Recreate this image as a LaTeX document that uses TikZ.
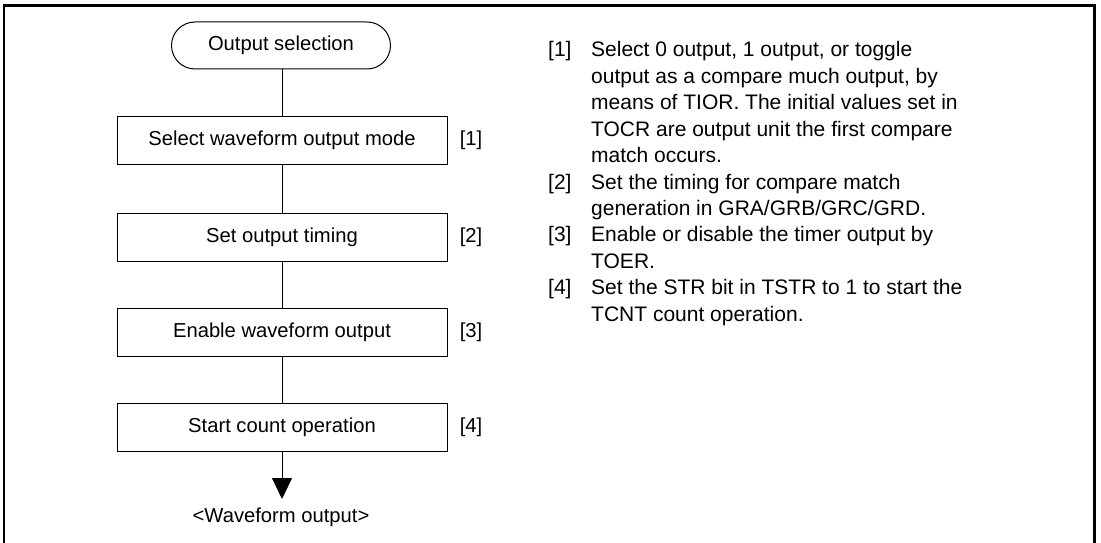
\documentclass[tikz,border=0pt]{standalone}
\usepackage{fontspec}
\setmainfont{Liberation Sans}
\usetikzlibrary{arrows.meta}
\begin{document}
\begin{tikzpicture}[x=1pt,y=-1pt,
  every node/.style={font=\fontsize{20.2}{24}\selectfont, inner sep=0pt},
  stepbox/.style={draw, line width=1pt, minimum width=330pt, minimum height=48pt},
  termbox/.style={draw, line width=1pt, rounded corners=23.5pt, minimum width=219pt, minimum height=47pt},
  link/.style={line width=0.9pt},
  note/.style={anchor=base west, font=\fontsize{21}{24}\selectfont},
  tag/.style={anchor=base west, font=\fontsize{21}{24}\selectfont}
]
\useasboundingbox (0,0) rectangle (1101,543);
\draw[line width=2.5pt] (4,543) -- (4,5.5) -- (1094.5,5.5) -- (1094.5,543);

\node[termbox] (t) at (281,45.5) {Output selection};
\node[stepbox] (s1) at (282,140) {Select waveform output mode};
\node[stepbox] (s2) at (282,237.5) {Set output timing};
\node[stepbox] (s3) at (282,332) {Enable waveform output};
\node[stepbox] (s4) at (282,427) {Start count operation};
\node (l1) at (471,140) {[1]};
\node (l2) at (471,237.5) {[2]};
\node (l3) at (471,332) {[3]};
\node (l4) at (471,427) {[4]};
\coordinate (end) at (282,499);
\node (out) at (281,517) {<Waveform output>};

\draw[link] (t.south -| s1.north) -- (s1.north);
\draw[link] (s1) -- (s2);
\draw[link] (s2) -- (s3);
\draw[link] (s3) -- (s4);
\draw[link, -{Triangle[width=20pt,length=21pt]}] (s4.south) -- (end);

\node[tag] (n1) at (548,57) {[1]};
\node[note] (n1a) at (591,57) {Select 0 output, 1 output, or toggle};
\node[note] (n1b) at (591,83.4) {output as a compare much output, by};
\node[note] (n1c) at (591,109.8) {means of TIOR. The initial values set in};
\node[note] (n1d) at (591,136.2) {TOCR are output unit the first compare};
\node[note] (n1e) at (591,162.6) {match occurs.};
\node[tag] (n2) at (548,189) {[2]};
\node[note] (n2a) at (591,189) {Set the timing for compare match};
\node[note] (n2b) at (591,215.4) {generation in GRA/GRB/GRC/GRD.};
\node[tag] (n3) at (548,241.8) {[3]};
\node[note] (n3a) at (591,241.8) {Enable or disable the timer output by};
\node[note] (n3b) at (591,268.2) {TOER.};
\node[tag] (n4) at (548,294.6) {[4]};
\node[note] (n4a) at (591,294.6) {Set the STR bit in TSTR to 1 to start the};
\node[note] (n4b) at (591,321) {TCNT count operation.};
\end{tikzpicture}
\end{document}
